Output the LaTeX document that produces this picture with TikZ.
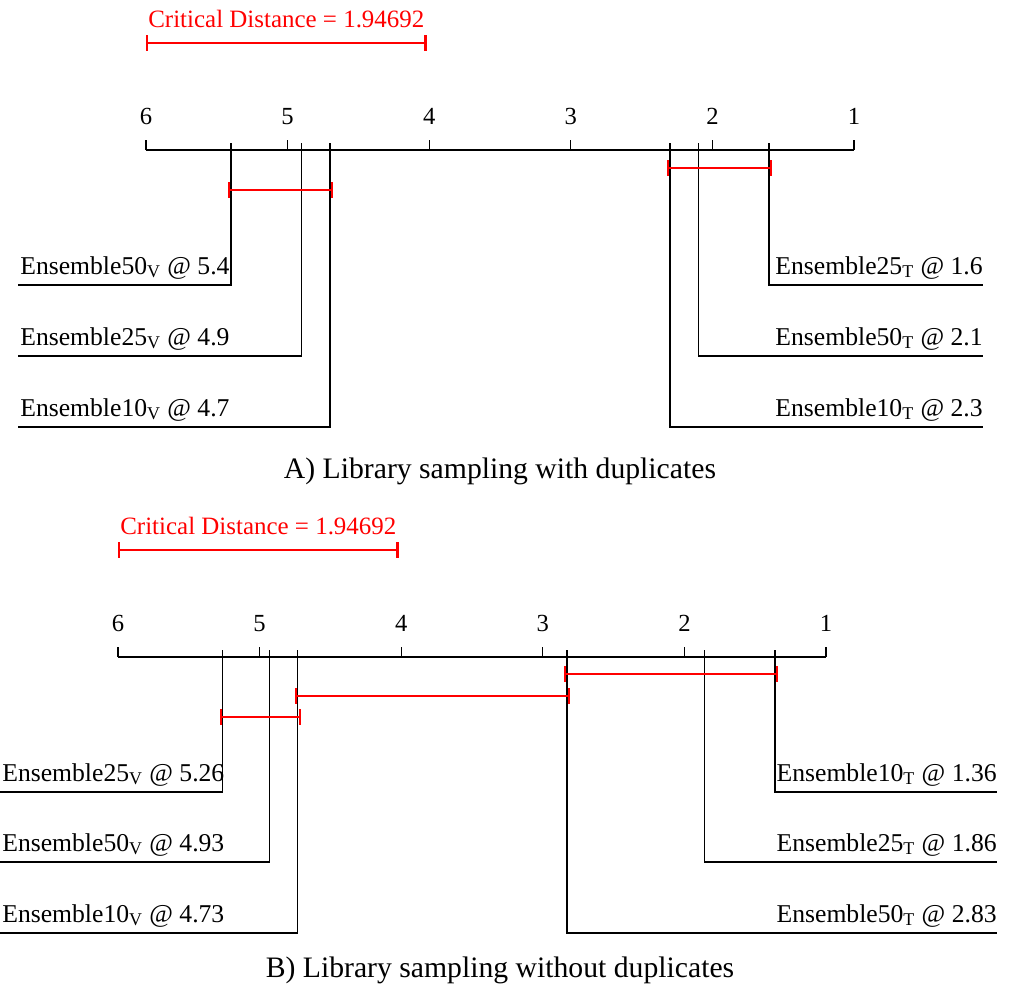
\documentclass[tikz,border=0pt]{standalone}
\usepackage{fontspec}
\setmainfont{Liberation Serif}
\usetikzlibrary{arrows.meta}

\def\ru{141.6}
\tikzset{
  axisline/.style={black, line width=0.75pt},
  cdbar/.style={red, line width=1.3pt, {Bar[width=9pt,line width=1.3pt]}-{Bar[width=9pt,line width=1.3pt]}},
  ticklbl/.style={anchor=base, inner sep=0pt, font=\fontsize{14}{16}\selectfont},
  cdlbl/.style={anchor=base, inner sep=0pt, yshift=0.32cm, red, font=\fontsize{14.2}{16}\selectfont},
  methlbl/.style={inner sep=0pt, font=\fontsize{14.6}{17}\selectfont},
  caption/.style={anchor=base, inner sep=0pt, font=\fontsize{16.9}{20}\selectfont}
}

\begin{document}
\begin{tikzpicture}[x=0.02cm, y=-0.02cm]
\useasboundingbox (0,0) rectangle (1019,985);

% A) with duplicates
\begin{scope}[shift={(146,150)}]
\draw[axisline] (0,0) -- ({5*\ru},0);
\foreach \n [count=\i from 0] in {6,5,4,3,2,1} {
  \draw[axisline] ({\i*\ru},0) -- ({\i*\ru},-10);
  \node[ticklbl] (ta\n) at ({\i*\ru},-26) {\n};
}
\coordinate (cda1) at (0,-107);
\coordinate (cda2) at ({1.94692*\ru+5},-107);
\draw[cdbar] (cda1) -- (cda2) node[midway, cdlbl] (cda) {Critical Distance = 1.94692};
% left methods
\foreach \r/\h/\t [count=\k] in {5.4/135/Ensemble50\textsubscript{V} @ 5.4,
                                 4.9/206/Ensemble25\textsubscript{V} @ 4.9,
                                 4.7/277/Ensemble10\textsubscript{V} @ 4.7} {
  \coordinate (val\k) at ({(6-\r)*\ru},-7);
  \coordinate (eal\k) at (-128,\h);
  \draw[axisline] (val\k) |- (eal\k);
  \node[methlbl, anchor=base west] (mal\k) at (-126,\h-11) {\t};
}
% right methods
\foreach \r/\h/\t [count=\k] in {1.6/135/Ensemble25\textsubscript{T} @ 1.6,
                                 2.1/206/Ensemble50\textsubscript{T} @ 2.1,
                                 2.3/277/Ensemble10\textsubscript{T} @ 2.3} {
  \coordinate (var\k) at ({(6-\r)*\ru},-7);
  \coordinate (ear\k) at (837,\h);
  \draw[axisline] (var\k) |- (ear\k);
  \node[methlbl, anchor=base east] (mar\k) at (837,\h-11) {\t};
}
% cliques
\draw[cdbar] ([xshift=-0.06cm]val1 |- 0,40) -- ([xshift=0.06cm]val3 |- 0,40);
\draw[cdbar] ([xshift=-0.06cm]var3 |- 0,18) -- ([xshift=0.06cm]var1 |- 0,18);
\end{scope}
\node[caption] (capa) at (500,478) {A) Library sampling with duplicates};

% B) without duplicates
\begin{scope}[shift={(118,657)}]
\draw[axisline] (0,0) -- ({5*\ru},0);
\foreach \n [count=\i from 0] in {6,5,4,3,2,1} {
  \draw[axisline] ({\i*\ru},0) -- ({\i*\ru},-10);
  \node[ticklbl] (tb\n) at ({\i*\ru},-26) {\n};
}
\coordinate (cdb1) at (0,-107);
\coordinate (cdb2) at ({1.94692*\ru+5},-107);
\draw[cdbar] (cdb1) -- (cdb2) node[midway, cdlbl] (cdb) {Critical Distance = 1.94692};
% left methods
\foreach \r/\h/\t [count=\k] in {5.26/135/Ensemble25\textsubscript{V} @ 5.26,
                                 4.93/205/Ensemble50\textsubscript{V} @ 4.93,
                                 4.73/276/Ensemble10\textsubscript{V} @ 4.73} {
  \coordinate (vbl\k) at ({(6-\r)*\ru},-7);
  \coordinate (ebl\k) at (-118,\h);
  \draw[axisline] (vbl\k) |- (ebl\k);
  \node[methlbl, anchor=base west] (mbl\k) at (-116,\h-11) {\t};
}
% right methods
\foreach \r/\h/\t [count=\k] in {1.36/135/Ensemble10\textsubscript{T} @ 1.36,
                                 1.86/205/Ensemble25\textsubscript{T} @ 1.86,
                                 2.83/276/Ensemble50\textsubscript{T} @ 2.83} {
  \coordinate (vbr\k) at ({(6-\r)*\ru},-7);
  \coordinate (ebr\k) at (879,\h);
  \draw[axisline] (vbr\k) |- (ebr\k);
  \node[methlbl, anchor=base east] (mbr\k) at (879,\h-11) {\t};
}
% cliques
\draw[cdbar] ([xshift=-0.06cm]vbr3 |- 0,17) -- ([xshift=0.06cm]vbr1 |- 0,17);
\draw[cdbar] ([xshift=-0.06cm]vbl3 |- 0,39) -- ([xshift=0.06cm]vbr3 |- 0,39);
\draw[cdbar] ([xshift=-0.06cm]vbl1 |- 0,60) -- ([xshift=0.06cm]vbl3 |- 0,60);
\end{scope}
\node[caption] (capb) at (500,977) {B) Library sampling without duplicates};
\end{tikzpicture}
\end{document}
